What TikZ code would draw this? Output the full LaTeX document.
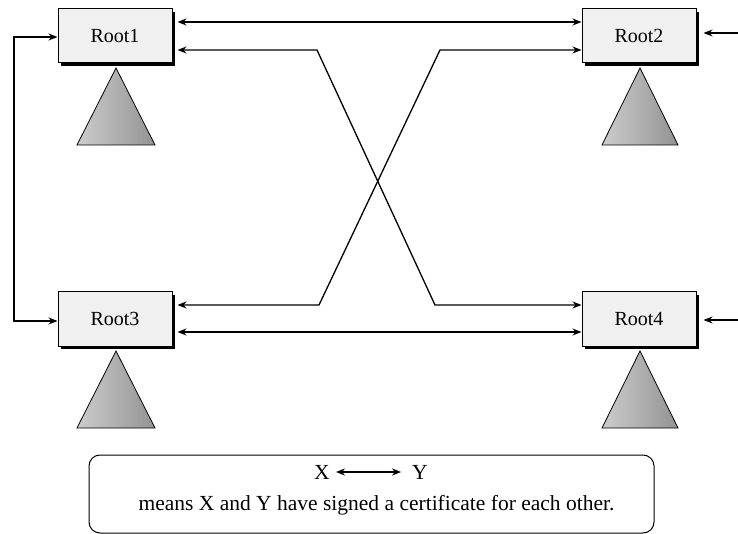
\documentclass[tikz,border=0pt]{standalone}
\usepackage{fontspec}
\setmainfont{Liberation Serif}
\usetikzlibrary{arrows.meta,shadows,calc}
\begin{document}
\begin{tikzpicture}[x=1pt,y=-1pt,
  rootbox/.style={draw=black,line width=1pt,fill=gray!12,minimum width=114pt,minimum height=54pt,inner sep=0pt,
    font=\fontsize{20}{22}\selectfont,
    drop shadow={shadow xshift=3pt,shadow yshift=-3pt,fill=black,opacity=1}},
  link/.style={line width=1.3pt,{Stealth[length=9pt,width=7pt]}-{Stealth[length=9pt,width=7pt]}},
  inarrow/.style={line width=1.3pt,-{Stealth[length=9pt,width=7pt]}},
  tri/.style={draw=black,line width=0.8pt,left color=gray!40,middle color=gray!28,right color=gray!85},
  lbl/.style={font=\fontsize{21.5}{24}\selectfont,inner sep=1pt},
  lbig/.style={font=\fontsize{21.5}{24}\selectfont,inner sep=3pt}]
\useasboundingbox (0,0) rectangle (738,534);
\node[rootbox] (r1) at (115,36) {Root1};
\node[rootbox] (r2) at (639,36) {Root2};
\node[rootbox] (r3) at (115,319) {Root3};
\node[rootbox] (r4) at (639,319) {Root4};
% triangles
\shade[tri] (116,68) -- (77,145) -- (155,145) -- cycle;
\shade[tri] (640,68) -- (602,145) -- (678,145) -- cycle;
\shade[tri] (116,351) -- (77,428) -- (155,428) -- cycle;
\shade[tri] (640,351) -- (602,428) -- (678,428) -- cycle;
% connectors
\coordinate (b1) at (317,50);
\coordinate (b2) at (435,305);
\coordinate (b3) at (440,50);
\coordinate (b4) at (319,305);
\coordinate (lc) at (14,37);
\coordinate (in2) at (738,33);
\coordinate (in4) at (738,320);
\draw[link] ([xshift=5pt,yshift=14pt]r1.east) -- ([yshift=14pt]r2.west);
\draw[link] ([xshift=5pt,yshift=-14pt]r1.east) -- (b1) -- (b2) -- ([yshift=14pt]r4.west);
\draw[link] ([yshift=-14pt]r2.west) -- (b3) -- (b4) -- ([xshift=5pt,yshift=14pt]r3.east);
\draw[link] ([xshift=5pt,yshift=-13pt]r3.east) -- ([yshift=-13pt]r4.west);
\draw[link] ([yshift=-1pt]r1.west) -- (lc) |- ([yshift=-2pt]r3.west);
\draw[inarrow] (in2) -- ([xshift=7pt,yshift=3pt]r2.east);
\draw[inarrow] (in4) -- ([xshift=7pt,yshift=-1pt]r4.east);
% legend
\draw[line width=1pt,rounded corners=11pt] (89,455) rectangle (654,533);
\node[lbig] (lx) at (322,472) {X};
\node[lbig] (ly) at (420,472) {Y};
\draw[link] ([xshift=3pt]lx.east) -- ([xshift=-8pt]ly.west);
\node[lbl] (lt) at (376.5,505) {means X and Y have signed a certificate for each other.};
\end{tikzpicture}
\end{document}
